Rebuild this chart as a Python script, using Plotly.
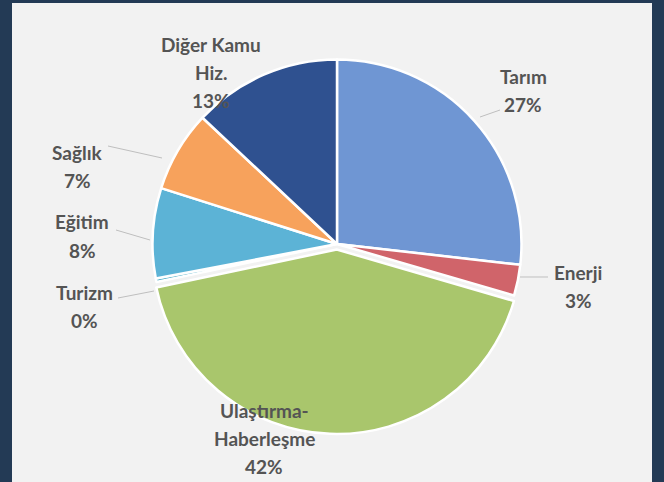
import plotly.graph_objects as go

# ---- data ----
categories = ["Tarım", "Enerji", "Ulaştırma-Haberleşme", "Turizm", "Eğitim", "Sağlık", "Diğer Kamu Hiz."]
label_lines = [["Tarım"], ["Enerji"], ["Ulaştırma-", "Haberleşme"], ["Turizm"], ["Eğitim"], ["Sağlık"], ["Diğer Kamu", "Hiz."]]
shares = [26.8, 2.7, 42.2, 0.3, 7.9, 7.1, 13.0]

# ---- styles / layout helpers ----
colors = ["#6f96d3", "#d0646a", "#a9c66c", "#4bacc6", "#5cb3d6", "#f7a25c", "#2f5190"]
pulls = [0, 0, 0.03, 0, 0, 0, 0]
W, H = 664, 482
# label block anchor (center x, first-line y) in pixels
label_pos = [(523, 76), (578, 272), (264, 410), (84, 292), (82, 222), (77, 152), (211, 44)]
line_gap = 28
# leader lines (pixel coords)
leaders = [((480, 117), (500, 110)), ((520, 277), (548, 277)), None, ((118, 298), (154, 291)),
           ((116, 230), (150, 240)), ((108, 146), (162, 158)), None]

def px(x):
    return x / W

def py(y):
    return 1 - y / H

fig = go.Figure()
fig.add_trace(go.Pie(
    labels=categories,
    values=shares,
    sort=False,
    direction="clockwise",
    rotation=0,
    pull=pulls,
    marker=dict(colors=colors, line=dict(color="white", width=2.5)),
    textinfo="none",
    hoverinfo="label+percent",
    showlegend=False,
    domain=dict(x=[px(146), px(528)], y=[py(434), py(54)]),
))

annotations = []
for lines, v, (cx, cy) in zip(label_lines, shares, label_pos):
    all_lines = lines + [f"{round(v)}%"]
    for i, t in enumerate(all_lines):
        annotations.append(dict(
            x=px(cx), y=py(cy + i * line_gap), xref="paper", yref="paper",
            text=f"<b>{t}</b>", showarrow=False, xanchor="center", yanchor="middle",
            font=dict(family="Lato", size=19, color="#545454"),
        ))

shapes = [dict(type="rect", xref="paper", yref="paper", x0=px(12), x1=px(652), y0=0, y1=py(3),
               fillcolor="#f2f2f2", line=dict(width=0), layer="below")]
for ld in leaders:
    if ld:
        (x0, y0), (x1, y1) = ld
        shapes.append(dict(type="line", xref="paper", yref="paper", x0=px(x0), y0=py(y0),
                           x1=px(x1), y1=py(y1), line=dict(color="#bfbfbf", width=1)))

fig.update_layout(
    width=W, height=H,
    margin=dict(l=0, r=0, t=0, b=0),
    paper_bgcolor="#233a55",
    plot_bgcolor="#233a55",
    shapes=shapes,
    annotations=annotations,
)

fig.write_html("out.html",
               config={"displayModeBar": False},
               post_script="document.body.style.margin='0';document.body.style.padding='0';document.body.style.overflow='hidden';")
